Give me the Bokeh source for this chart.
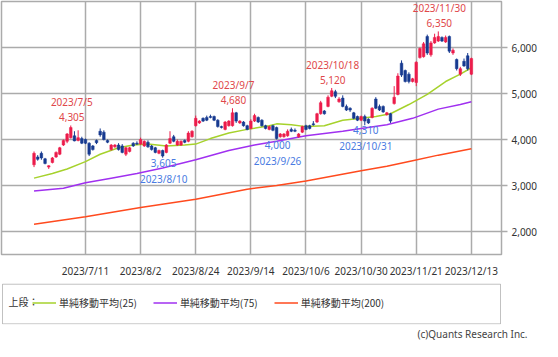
from bokeh.plotting import figure
from bokeh.models import (ColumnDataSource, FixedTicker, NumeralTickFormatter, Range1d,
                          Legend, LegendItem, Label, BoxAnnotation, Title)
from bokeh.layouts import column
from bokeh.embed import file_html
from bokeh.resources import INLINE
from bokeh.core.properties import value

# ---------------- data ----------------
# trading-day index: 0 = 2023/7/11, 105 = 2023/12/13
tick_idx = [0, 15, 30, 45, 60, 75, 90, 105]
tick_labels = ["2023/7/11", "2023/8/2", "2023/8/24", "2023/9/14",
               "2023/10/6", "2023/10/30", "2023/11/21", "2023/12/13"]

day_idx = list(range(-14, 106))

opens = [3450, 3620, 3700, 3580, 3400, 3500, 3620, 3680, 3880, 3960,
         4040, 4080, 3980, 4020, 4000, 3920, 3860, 3980, 4180, 4160,
         3980, 3780, 3840, 3880, 3860, 3680, 3740, 3920, 3920, 3900,
         3860, 3940, 3860, 3820, 3700, 3760, 3720, 3920, 4060, 3880,
         3880, 3980, 3960, 4060, 4300, 4360, 4460, 4480, 4500, 4500,
         4420, 4280, 4220, 4300, 4300, 4580, 4360, 4380, 4300, 4240,
         4400, 4480, 4420, 4300, 4220, 4300, 4260, 4060, 4060, 4080,
         4220, 4200, 4060, 4160, 4300, 4300, 4340, 4380, 4560, 4620,
         4720, 4940, 5040, 4820, 4900, 4720, 4680, 4580, 4500, 4420,
         4500, 4440, 4480, 4880, 4720, 4720, 4540, 4560, 4780, 4980,
         5660, 5500, 5420, 5260, 5240, 5780, 5800, 6240, 5840, 6100,
         6140, 6220, 6120, 6240, 5880, 5740, 5420, 5700, 5820, 5420]
highs = [3740, 3660, 3740, 3600, 3440, 3620, 3740, 3840, 4000, 4140,
         4305, 4180, 4200, 4060, 4020, 3940, 3880, 4000, 4240, 4200,
         4000, 3900, 3900, 3920, 3900, 3840, 3840, 3940, 3960, 4040,
         3980, 3980, 3880, 3840, 3780, 3780, 3900, 4180, 4100, 4000,
         3980, 4000, 4180, 4200, 4520, 4420, 4480, 4520, 4540, 4520,
         4440, 4300, 4400, 4420, 4680, 4600, 4420, 4400, 4320, 4440,
         4560, 4500, 4440, 4320, 4300, 4320, 4280, 4140, 4140, 4220,
         4260, 4240, 4140, 4300, 4320, 4320, 4400, 4580, 4840, 4640,
         4960, 5120, 5080, 4920, 4960, 4760, 4700, 4600, 4520, 4520,
         4540, 4460, 4700, 4920, 4760, 4740, 4600, 4580, 5160, 5440,
         5720, 5520, 5460, 5340, 5700, 6000, 6120, 6280, 6140, 6300,
         6350, 6240, 6260, 6260, 5980, 5760, 5580, 5760, 5880, 5780]
lows = [3400, 3540, 3560, 3460, 3360, 3480, 3600, 3660, 3860, 3920,
        4020, 3960, 3960, 3900, 3900, 3640, 3760, 3900, 4060, 3980,
        3920, 3760, 3820, 3760, 3700, 3640, 3720, 3840, 3880, 3880,
        3840, 3820, 3760, 3700, 3680, 3605, 3700, 3900, 3940, 3860,
        3860, 3920, 3940, 4040, 4280, 4340, 4380, 4400, 4460, 4400,
        4260, 4240, 4200, 4280, 4280, 4360, 4340, 4280, 4200, 4220,
        4380, 4360, 4280, 4220, 4200, 4180, 4000, 4040, 4040, 4060,
        4160, 4160, 4040, 4140, 4200, 4220, 4300, 4360, 4540, 4540,
        4700, 4920, 4900, 4800, 4700, 4620, 4600, 4440, 4400, 4400,
        4310, 4340, 4460, 4660, 4620, 4580, 4520, 4360, 4760, 4960,
        5360, 5240, 5220, 5240, 5160, 5760, 5780, 5840, 5800, 6080,
        6120, 6120, 6100, 5880, 5840, 5500, 5380, 5580, 5500, 5400]
closes = [3700, 3570, 3600, 3480, 3430, 3600, 3720, 3820, 3980, 4120,
          4260, 3970, 4040, 3920, 3920, 3680, 3780, 3930, 4100, 4000,
          3940, 3880, 3880, 3780, 3720, 3820, 3820, 3860, 3900, 4000,
          3960, 3840, 3780, 3720, 3760, 3640, 3880, 4020, 3960, 3960,
          3960, 3940, 4140, 4180, 4460, 4400, 4400, 4420, 4480, 4420,
          4280, 4260, 4380, 4400, 4580, 4400, 4400, 4300, 4220, 4400,
          4520, 4380, 4300, 4240, 4280, 4200, 4020, 4120, 4120, 4180,
          4180, 4180, 4120, 4280, 4220, 4240, 4320, 4560, 4800, 4560,
          4920, 5060, 4940, 4880, 4720, 4640, 4640, 4460, 4420, 4500,
          4400, 4360, 4680, 4680, 4640, 4600, 4580, 4400, 4920, 5380,
          5400, 5260, 5260, 5320, 5680, 5980, 6080, 5880, 6100, 6220,
          6240, 6140, 6220, 5920, 5940, 5540, 5540, 5600, 5540, 5760]

ma25_idx = [-14, -9, -5, 0, 4, 9, 13, 17, 22, 27, 30, 34, 39, 44, 50, 52,
            56, 60, 65, 70, 75, 79, 83, 88, 93, 98, 102, 105]
ma25_val = [3160, 3260, 3360, 3520, 3680, 3820, 3880, 3900, 3860, 3880, 3900,
            4020, 4140, 4220, 4300, 4340, 4320, 4280, 4300, 4420, 4460, 4500,
            4560, 4760, 4980, 5260, 5420, 5560]
ma75_idx = [-14, -6, 0, 7, 14, 21, 30, 39, 46, 52, 60, 70, 75, 82, 89, 96, 102, 105]
ma75_val = [2880, 2940, 3060, 3160, 3260, 3380, 3560, 3760, 3880, 3960, 4080,
            4180, 4240, 4320, 4460, 4660, 4760, 4820]
ma200_idx = [-14, 0, 15, 30, 44, 52, 60, 75, 82, 89, 96, 105]
ma200_val = [2160, 2320, 2520, 2700, 2920, 3000, 3100, 3320, 3420, 3540, 3660, 3800]

hi_idx = [-4, 40, 67, 96]
hi_val = [4305, 4680, 5120, 6350]
hi_date = ["2023/7/5", "2023/9/7", "2023/10/18", "2023/11/30"]
lo_idx = [21, 52, 76]
lo_val = [3605, 4000, 4310]
lo_date = ["2023/8/10", "2023/9/26", "2023/10/31"]

legend_title = "上段："
legend_labels = ["単純移動平均(25)", "単純移動平均(75)", "単純移動平均(200)"]
copyright_text = "(c)Quants Research Inc."

# ---------------- styles ----------------
FONT = "Noto Sans CJK JP"
LATIN = "Noto Sans"
UP = "#ec1c4b"
DOWN = "#173a90"
C25 = "#a6d22c"
C75 = "#a030f0"
C200 = "#ff4a1e"
RED_TXT = "#e0474a"
BLUE_TXT = "#4a7be2"
GRID = "#ababab"

colors = [UP if c >= o else DOWN for o, c in zip(opens, closes)]
src = ColumnDataSource(dict(x=day_idx, o=opens, h=highs, l=lows, c=closes,
                            top=[max(o, c) for o, c in zip(opens, closes)],
                            bot=[min(o, c) for o, c in zip(opens, closes)],
                            color=colors))

p = figure(width=542, height=280, x_range=Range1d(-22.85, 113.2),
           y_range=Range1d(1500, 7000), output_backend="svg",
           toolbar_location=None, y_axis_location="right",
           min_border_left=1, min_border_top=1, min_border_right=41,
           min_border_bottom=16)
p.outline_line_color = GRID
p.outline_line_width = 1.5
p.background_fill_color = "white"

p.xaxis.ticker = FixedTicker(ticks=tick_idx)
p.xaxis.major_label_overrides = {t: l for t, l in zip(tick_idx, tick_labels)}
p.yaxis.ticker = FixedTicker(ticks=[2000, 3000, 4000, 5000, 6000])
p.yaxis.formatter = NumeralTickFormatter(format="0,0")
for ax in (p.xaxis, p.yaxis):
    ax.axis_line_color = None
    ax.minor_tick_line_color = None
    ax.major_label_text_font = LATIN
    ax.major_label_text_font_size = "10px"
    ax.major_label_text_color = "#333333"
p.xaxis.major_tick_line_color = None
p.xaxis.major_label_standoff = 3
p.yaxis.major_tick_line_color = GRID
p.yaxis.major_tick_line_width = 1.5
p.yaxis.major_tick_out = 6
p.yaxis.major_tick_in = 0
p.yaxis.major_label_standoff = 4
p.xgrid.ticker = FixedTicker(ticks=tick_idx)
p.ygrid.ticker = FixedTicker(ticks=[2000, 3000, 4000, 5000, 6000])
p.grid.grid_line_color = GRID
p.grid.grid_line_width = 1.5

# moving averages
p.line(ma200_idx, ma200_val, line_color=C200, line_width=1.5)
p.line(ma75_idx, ma75_val, line_color=C75, line_width=1.5)
p.line(ma25_idx, ma25_val, line_color=C25, line_width=1.5)

# candles
p.segment(x0="x", y0="h", x1="x", y1="l", source=src, line_color="color", line_width=1)
p.vbar(x="x", top="top", bottom="bot", width=0.72, source=src,
       fill_color="color", line_color="color", line_width=0.5)

# annotations (highs: date over value, above; lows: value over date, below)
hi_src = ColumnDataSource(dict(x=hi_idx, y=hi_val, d=hi_date,
                               v=[f"{v:,}" for v in hi_val]))
lo_src = ColumnDataSource(dict(x=lo_idx, y=lo_val, d=lo_date,
                               v=[f"{v:,}" for v in lo_val]))
common = dict(text_align="center", x_offset=1, text_font=value(LATIN),
              text_font_size="10px")
p.text(x="x", y="y", text="v", source=hi_src, text_baseline="bottom",
       y_offset=-4, text_color=RED_TXT, **common)
p.text(x="x", y="y", text="d", source=hi_src, text_baseline="bottom",
       y_offset=-16, text_color=RED_TXT, **common)
p.text(x="x", y="y", text="v", source=lo_src, text_baseline="top",
       y_offset=1, text_color=BLUE_TXT, **common)
p.text(x="x", y="y", text="d", source=lo_src, text_baseline="top",
       y_offset=14, text_color=BLUE_TXT, **common)

# ---------------- legend panel ----------------
p2 = figure(width=542, height=60, x_range=Range1d(0, 1), y_range=Range1d(0, 1),
            output_backend="svg", toolbar_location=None,
            x_axis_type=None, y_axis_type=None,
            min_border_left=0, min_border_right=0, min_border_top=0,
            min_border_bottom=0)
p2.grid.visible = False
p2.outline_line_color = None
p2.add_layout(BoxAnnotation(left=0.002, right=0.998, bottom=0.015, top=0.915,
                            fill_alpha=0, line_color="#333333", line_width=1))
r1 = p2.line([-5, -4], [-5, -5], line_color=C25, line_width=1.5)
r2 = p2.line([-5, -4], [-5, -5], line_color=C75, line_width=1.5)
r3 = p2.line([-5, -4], [-5, -5], line_color=C200, line_width=1.5)
p2.add_layout(Label(x=0.014, y=0.53, text=legend_title, text_baseline="middle",
                    text_font=FONT, text_font_size="10px", text_color="#333333"))
leg = Legend(items=[LegendItem(label=legend_labels[0], renderers=[r1]),
                    LegendItem(label=legend_labels[1], renderers=[r2]),
                    LegendItem(label=legend_labels[2], renderers=[r3])],
             orientation="horizontal", location="left",
             label_text_font=FONT, label_text_font_size="10px",
             label_text_color="#333333", label_height=12,
             glyph_width=24, glyph_height=12, label_standoff=3, spacing=16,
             padding=0, margin=31, border_line_color=None,
             background_fill_alpha=0)
p2.add_layout(leg)
p2.add_layout(Title(text=copyright_text, align="left", offset=416,
                    text_font=LATIN, text_font_size="10px",
                    text_font_style="normal", text_color="#444444",
                    standoff=0), "below")

layout = column(p, p2, spacing=0)
open("out.html", "w").write(file_html(layout, INLINE))
